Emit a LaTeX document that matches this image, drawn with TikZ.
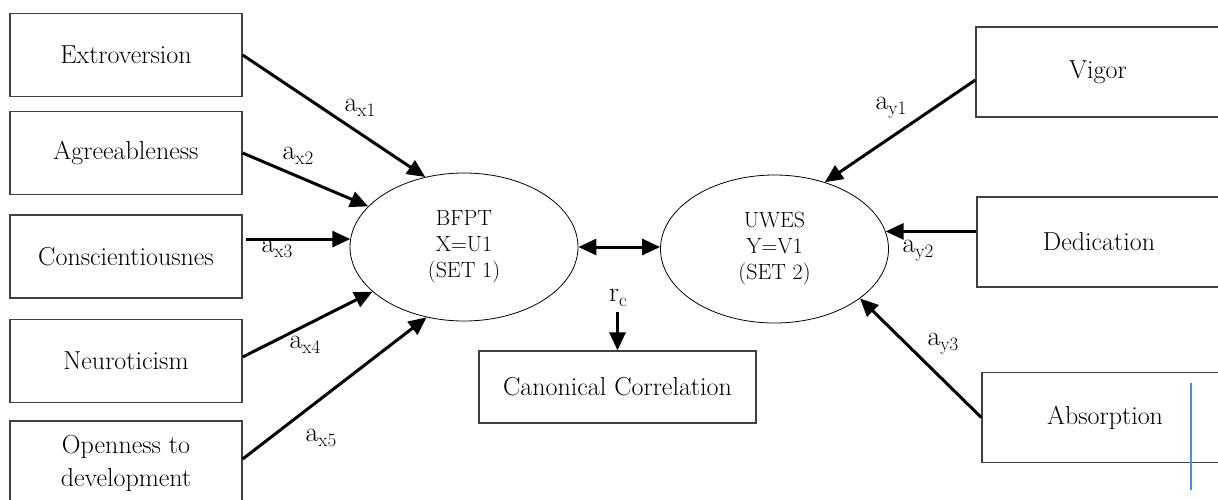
\documentclass[tikz,border=0pt]{standalone}
\usepackage{fontspec}
\usetikzlibrary{shapes.geometric,arrows.meta}

% loading coefficient label: a with a lowered subscript
\newcommand\coefl[1]{a\raisebox{-5pt}{\fontsize{19}{21}\selectfont #1}}

\tikzset{
  box/.style={draw=black!75, line width=1.3pt, minimum width=232pt,
    minimum height=83pt, inner sep=0pt, align=center,
    font=\fontsize{26}{33}\selectfont},
  rbox/.style={box, minimum width=244pt, minimum height=90pt},
  latent/.style={ellipse, draw, line width=0.8pt, minimum width=228pt,
    minimum height=148pt, inner sep=0pt, align=center,
    font=\fontsize{22}{26}\selectfont},
  arr/.style={line width=3pt, -{Triangle[length=18pt,width=16pt]}},
  darr/.style={line width=3pt, {Triangle[length=18pt,width=16pt]}-{Triangle[length=18pt,width=16pt]}},
  coef/.style={inner sep=0pt, font=\fontsize{28}{30}\selectfont},
}

\begin{document}
\begin{tikzpicture}[x=1pt, y=-1pt]
  \useasboundingbox (0,0) rectangle (1218,499);
  \clip (0,0) rectangle (1218,499);
  \fill[white] (0,0) rectangle (1218,499);

  % personality traits (set 1)
  \node[box] (ext) at (126,55)    {Extroversion};
  \node[box] (agr) at (126,153)   {Agreeableness};
  \node[box] (con) at (126,256.5) {Conscientiousnes};
  \node[box] (neu) at (126,361)   {Neuroticism};
  \node[box, minimum height=84pt] (opn) at (126,463) {Openness to\\development};

  % work engagement dimensions (set 2)
  \node[rbox] (vig) at (1098,72)    {Vigor};
  \node[rbox] (ded) at (1099,242)   {Dedication};
  \node[rbox, minimum width=246pt] (abs) at (1105,417.5) {Absorption};

  % canonical variates
  \node[latent] (u1) at (464,247)   {BFPT\\X=U1\\(SET 1)};
  \node[latent] (v1) at (774.5,249) {UWES\\Y=V1\\(SET 2)};

  % result
  \node[box, minimum width=277pt, minimum height=72pt] (can) at (617.5,387) {Canonical Correlation};
  \node[coef] (rc) at (618,298) {r\raisebox{-5pt}{\fontsize{19}{21}\selectfont c}};

  % loadings onto U1
  \draw[arr] (ext.east) -- (u1.119);
  \draw[arr] (agr.east) -- (u1.157.6);
  \draw[arr] ([xshift=3pt]con.east |- u1.176) -- (u1.176);
  \draw[arr] ([yshift=4pt]neu.east) -- (u1.206.3);
  \draw[arr] ([yshift=4pt]opn.east) -- (u1.242);

  % loadings onto V1
  \draw[arr] ([yshift=-8pt]vig.west) -- (v1.53.2);
  \draw[arr] (ded.west |- v1.9.3) -- (v1.9.3);
  \draw[arr] (abs.west) -- (v1.330);

  % correlation between the variates
  \draw[darr] (u1.east) -- (u1.east -| v1.west);
  \draw[arr] ([yshift=-5pt]rc.south -| can.north) -- (can.north);

  % coefficient labels
  \node[coef] at (360,108) {\coefl{x1}};
  \node[coef] at (298,156) {\coefl{x2}};
  \node[coef] at (277,249) {\coefl{x3}};
  \node[coef] at (305,345) {\coefl{x4}};
  \node[coef] at (321,438) {\coefl{x5}};
  \node[coef] at (891,108) {\coefl{y1}};
  \node[coef] at (918,251) {\coefl{y2}};
  \node[coef] at (943,344) {\coefl{y3}};

  % text cursor mark
  \coordinate (cTop) at (1191,383);
  \coordinate (cBot) at (1191,490);
  \draw[color={rgb,255:red,74;green,144;blue,226}, line width=1.3pt] (cTop) -- (cBot);
\end{tikzpicture}
\end{document}
